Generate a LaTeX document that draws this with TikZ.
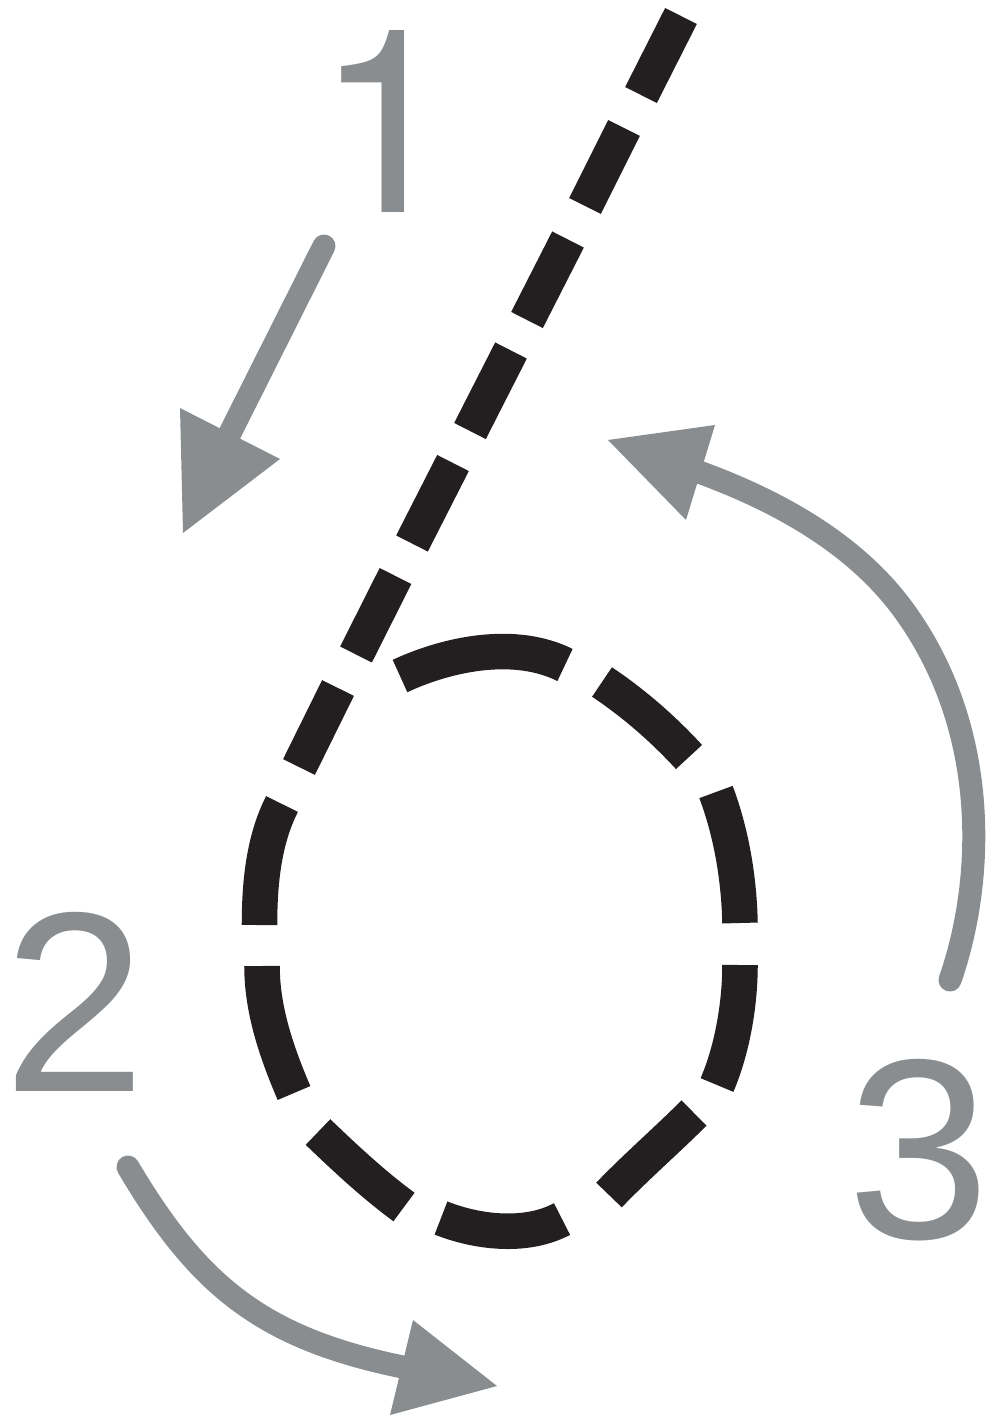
\documentclass[tikz,border=0pt]{standalone}
\usepackage{fontspec}
\setmainfont{LiberationSans}[Extension=.ttf,UprightFont=*-Regular]
\newfontfamily\herosfont{TeX Gyre Heros}
\definecolor{ink}{HTML}{231F20}
\definecolor{guide}{HTML}{8A8D8F}
\begin{document}
\begin{tikzpicture}[x=0.01cm,y=-0.01cm,
  dashseg/.style={draw=ink,line width=0.355cm,line cap=butt},
  guideline/.style={draw=guide,line width=0.23cm,line cap=round},
  guidehead/.style={fill=guide,draw=none},
  num/.style={text=guide,font=\fontsize{73}{80}\selectfont,inner sep=0pt,anchor=base}]
\useasboundingbox (0,0) rectangle (986,1418);

% stroke numbers
\node[num,font=\herosfont\fontsize{73}{80}\selectfont] (n1) at (387,212) {1};
\node[num] (n2) at (75,1091) {2};
\node[num] (n3) at (919,1238) {3};

% dashed figure six: straight stroke
\draw[dashseg] (681,16) -- (641,95);
\draw[dashseg] (624,128) -- (585,206);
\draw[dashseg] (568,239.5) -- (527,320);
\draw[dashseg] (511,350.5) -- (470,431);
\draw[dashseg] (453,463) -- (412,543.5);
\draw[dashseg] (395.5,576) -- (356,654.5);
\draw[dashseg] (338,688) -- (299,767);
% loop
\draw[dashseg] (282,804) .. controls (263.4,840.6) and (259.5,884) .. (259.5,925);
\draw[dashseg] (262,966) .. controls (262,1010) and (276.7,1052.6) .. (294,1093);
\draw[dashseg] (318,1132) .. controls (345.4,1158.3) and (373.4,1184.5) .. (404,1207);
\draw[dashseg] (441,1218) .. controls (478.1,1232.8) and (526.8,1237.9) .. (562,1219);
\draw[dashseg] (609,1195) .. controls (636,1166.9) and (666.4,1140.6) .. (694,1113);
\draw[dashseg] (717,1085) .. controls (732,1050) and (740,1005) .. (740,965);
\draw[dashseg] (740,923) .. controls (739,877) and (731,832) .. (716,792);
\draw[dashseg] (689,757) .. controls (663.3,729) and (633.6,703.1) .. (602,682);
\draw[dashseg] (565,665) .. controls (516,640.4) and (450,652.8) .. (400,676);

% arrow 1
\coordinate (a1s) at (324,246);
\coordinate (a1e) at (223,447);
\draw[guideline] (a1s) -- (a1e);
\fill[guidehead] (180,408) -- (280,459) -- (183,533) -- cycle;

% arrow 2
\coordinate (a2s) at (128,1167);
\coordinate (a2e) at (413,1369);
\draw[guideline] (a2s) .. controls (199.4,1287.4) and (263.7,1340.4) .. (a2e);
\fill[guidehead] (413,1320) -- (390,1415) -- (497,1386) -- cycle;

% arrow 3
\coordinate (a3s) at (950,980);
\coordinate (a3m) at (905,612);
\coordinate (a3e) at (688.2,468.2);
\draw[guideline] (a3s) .. controls (985,880) and (990,730) .. (a3m)
  .. controls (852.8,539) and (766.6,495.5) .. (a3e);
\fill[guidehead] (715,425) -- (686,520) -- (608,440) -- cycle;
\end{tikzpicture}
\end{document}
